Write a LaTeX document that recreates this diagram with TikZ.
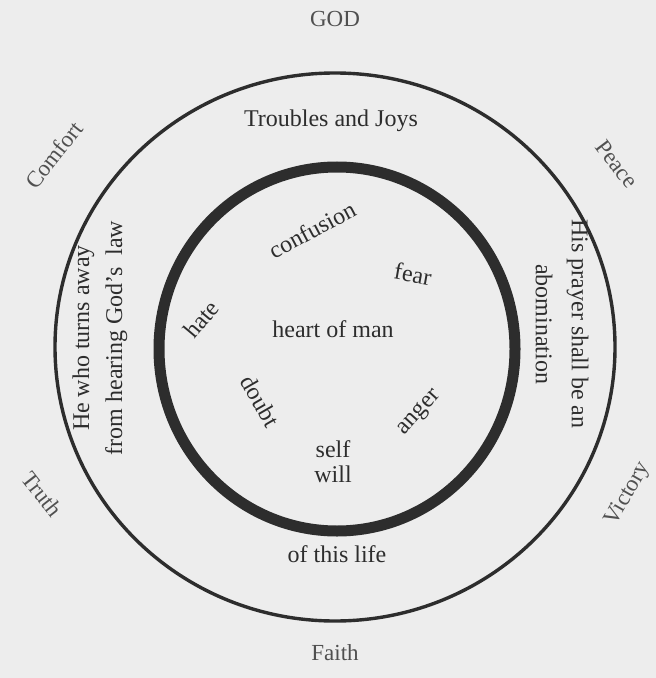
\documentclass[tikz,border=0pt]{standalone}
\usepackage{fontspec}
\setmainfont{Liberation Serif}
\definecolor{paper}{RGB}{237,237,237}
\definecolor{ink}{RGB}{45,45,45}
\definecolor{faint}{RGB}{80,80,80}
\begin{document}
\begin{tikzpicture}[x=0.5pt,y=-0.5pt,
  word/.style={text=ink,font=\fontsize{12}{14}\selectfont,inner sep=0pt},
  virtue/.style={text=faint,font=\fontsize{11.5}{14}\selectfont,inner sep=0pt}]
\fill[paper] (0,0) rectangle (656,678);
\useasboundingbox (0,0) rectangle (656,678);
\coordinate (life) at (335,347);
\coordinate (heart) at (337,349);
\draw[ink,line width=1.7pt] (life) ellipse [x radius=280,y radius=274];
\draw[ink,line width=5.5pt] (heart) ellipse [x radius=178,y radius=182];
\node[virtue] (god) at (335,19) {GOD};
\node[virtue,rotate=52] (comfort) at (54,155) {Comfort};
\node[virtue,rotate=-53] (peace) at (617,164) {Peace};
\node[virtue,rotate=-52] (truth) at (42,494) {Truth};
\node[virtue,rotate=60] (victory) at (628,494) {Victory};
\node[virtue] (faith) at (335,653) {Faith};
\node[word] (troubles) at (331,121) {Troubles and Joys};
\node[word] (thislife) at (337,554) {of this life};
\node[word,rotate=90,align=center,font=\fontsize{12}{16.5}\selectfont] (turns) at (100,338) {He who turns away\\from hearing God's\ \ law};
\node[word,rotate=-90,align=center,font=\fontsize{12}{18}\selectfont] (prayer) at (562,324) {His prayer shall be an\\abomination};
\node[word] (man) at (333,329) {heart of man};
\node[word,rotate=28] (confusion) at (312,230) {confusion};
\node[word,rotate=-10] (fear) at (413,274) {fear};
\node[word,rotate=50] (hate) at (201,319) {hate};
\node[word,rotate=-60] (doubt) at (260,401) {doubt};
\node[word,rotate=48] (anger) at (420,413) {anger};
\node[word,align=center,font=\fontsize{12}{12.5}\selectfont] (self) at (333,462) {self\\will};
\end{tikzpicture}
\end{document}
